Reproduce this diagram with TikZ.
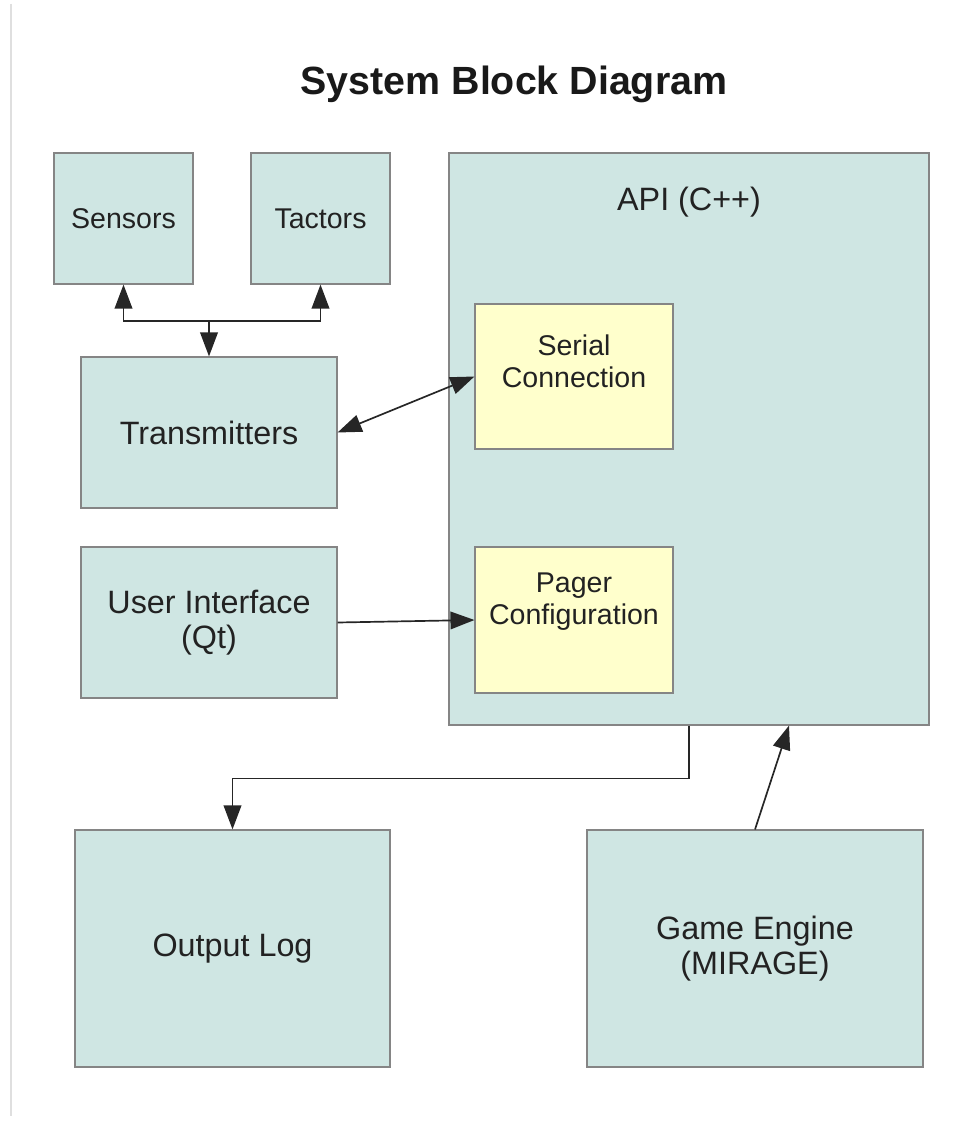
\documentclass[tikz,border=0pt]{standalone}
\usepackage{fontspec}
\setmainfont{Liberation Sans}
\usetikzlibrary{positioning, arrows.meta, calc}

\definecolor{blockfill}{HTML}{CFE6E3}
\definecolor{pagefill}{HTML}{FFFFCC}
\definecolor{edgegray}{HTML}{858585}
\definecolor{textgray}{HTML}{222222}

\begin{document}
\begin{tikzpicture}[
    block/.style={draw=edgegray, line width=0.8pt, fill=blockfill, text=textgray, align=center, inner sep=0pt, font=\fontsize{23}{24.8}\selectfont},
    smallblock/.style={block, font=\fontsize{20.3}{22.7}\selectfont},
    subblock/.style={block, fill=pagefill, minimum width=4.95cm},
    subtext/.style={text=textgray, align=center, font=\fontsize{20.3}{22.7}\selectfont},
    arrow/.style={-{Triangle[length=6mm, width=4.4mm]}, line width=1.2pt, black!85},
    twoway/.style={{Triangle[length=6mm, width=4.4mm]}-{Triangle[length=6mm, width=4.4mm]}, line width=1.2pt, black!85}
]
    \useasboundingbox (0, 0) rectangle (24.225, -28.325);

    % page edge
    \draw[gray!25, line width=1pt] (0.27, -0.1) -- (0.27, -27.9);

    % === Title ===
    \node[font=\fontsize{28}{30}\selectfont\bfseries, text=black!90] (title) at (12.85, -2.12) {System Block Diagram};

    % === Hardware side ===
    \node[smallblock, minimum width=3.475cm, minimum height=3.275cm] (sensors) at (3.0875, -5.4625) {Sensors};
    \node[smallblock, minimum width=3.475cm, minimum height=3.275cm] (tactors) at (8.0125, -5.4625) {Tactors};
    \node[block, minimum width=6.4cm, minimum height=3.775cm] (trans) at (5.225, -10.8125) {Transmitters};
    \node[block, minimum width=6.4cm, minimum height=3.775cm] (ui) at (5.225, -15.5625) {User Interface\\(Qt)};

    % === API ===
    \node[block, minimum width=12cm, minimum height=14.3cm,
          label={[subtext, font=\fontsize{23}{24.8}\selectfont, anchor=center, yshift=-1.25cm]north:API (C++)}] (api) at (17.225, -10.975) {};
    \node[subblock, minimum height=3.625cm,
          label={[subtext, anchor=center, yshift=3.9mm]center:{Serial\\Connection}}] (serial) at (14.35, -9.4125) {};
    \node[subblock, minimum height=3.65cm,
          label={[subtext, anchor=center, yshift=4.6mm]center:{Pager\\Configuration}}] (pager) at (14.35, -15.5) {};

    % === Bottom row ===
    \node[block, minimum width=7.875cm, minimum height=5.925cm] (output) at (5.8125, -23.7125) {Output Log};
    \node[block, minimum width=8.4cm, minimum height=5.925cm] (game) at (18.875, -23.7125) {Game Engine\\(MIRAGE)};

    % === Connections ===
    \coordinate (bus) at (trans.north |- 0, -8.025);
    \draw[twoway] (sensors.south) |- (bus) -| (tactors.south);
    \draw[arrow] (bus) -- (trans.north);
    \draw[twoway] (trans.east) -- (serial.west);
    \draw[arrow] (ui.east) -- (pager.west);
    \draw[arrow] (api.south) -- ++(0, -1.325) -| (output.north);
    \coordinate (apiin) at ($(api.south) + (2.5, 0)$);
    \draw[arrow] (game.north) -- (apiin);

\end{tikzpicture}
\end{document}
